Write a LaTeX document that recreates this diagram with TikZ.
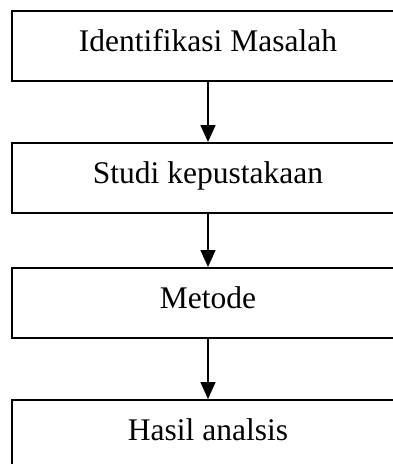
\documentclass[tikz,border=0pt]{standalone}
\usepackage{fontspec}
\setmainfont{Liberation Serif}
\usetikzlibrary{arrows.meta}
\begin{document}
\begin{tikzpicture}[x=1pt,y=1pt,
  stepbox/.style={draw=black, line width=1.6pt, rectangle, inner sep=0pt,
    minimum width=392pt, text height=40.5pt, text depth=29.5pt,
    font=\fontsize{31.5}{36}\selectfont, anchor=north},
  flow/.style={-{Triangle[width=15pt,length=17pt]}, line width=1.6pt}]
\useasboundingbox (0,0) rectangle (393,-464);
\clip (0,0) rectangle (393,-464);
\node[stepbox] (a) at (208,-10) {Identifikasi Masalah};
\node[stepbox] (b) at (208,-142) {Studi kepustakaan};
\node[stepbox] (c) at (208,-267) {Metode};
\node[stepbox] (d) at (208,-399) {Hasil analsis};
\draw[flow] (a) -- (b);
\draw[flow] (b) -- (c);
\draw[flow] (c) -- (d);
\end{tikzpicture}
\end{document}
